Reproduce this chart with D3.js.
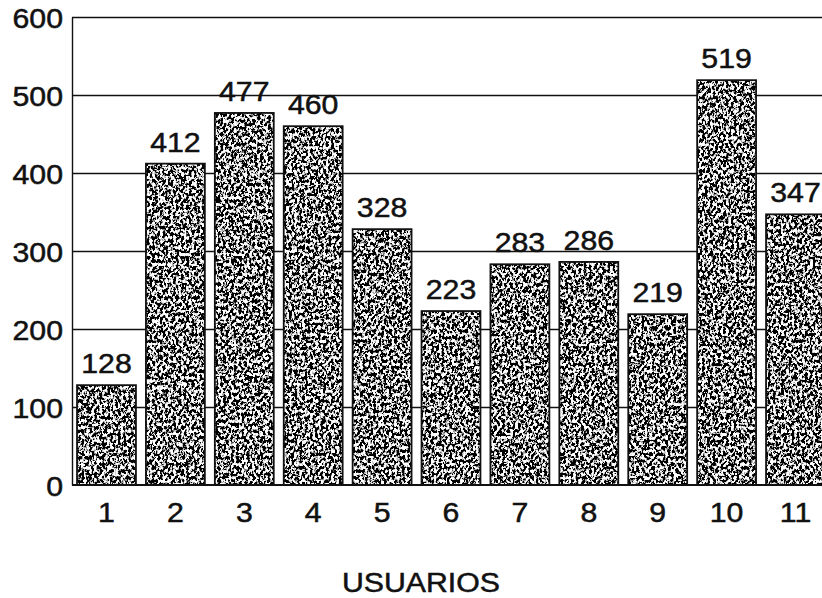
<!DOCTYPE html>
<html>
<head>
<meta charset="utf-8">
<script src="https://cdn.jsdelivr.net/npm/d3@7"></script>
<style>
  html, body { margin: 0; padding: 0; background: #fff; }
  svg { display: block; }
  text { font-family: "Liberation Sans", Arial, Helvetica, sans-serif; fill: #111; stroke: #111; stroke-width: 0.5px; }
</style>
</head>
<body>
<svg id="chart" width="822" height="598"></svg>
<script>
// Users per category
const usuarios = ["1", "2", "3", "4", "5", "6", "7", "8", "9", "10", "11"];
const valores = [128, 412, 477, 460, 328, 223, 283, 286, 219, 519, 347];
const yTicks = [0, 100, 200, 300, 400, 500, 600];
const xTitle = "USUARIOS";

const W = 822, H = 598;
const margin = { left: 72, top: 17, bottom: 113 };
const plotBottom = H - margin.bottom; // 485

const svg = d3.select("#chart");

// Speckled black-and-white texture for the bars
const defs = svg.append("defs");
const f = defs.append("filter").attr("id", "speckle")
  .attr("x", 0).attr("y", 0).attr("width", 1).attr("height", 1)
  .attr("filterUnits", "objectBoundingBox");
f.append("feTurbulence").attr("type", "fractalNoise")
  .attr("baseFrequency", "0.38 0.3").attr("numOctaves", 3).attr("seed", 7).attr("result", "noise");
f.append("feColorMatrix").attr("in", "noise").attr("type", "matrix")
  .attr("values", "0.33 0.33 0.33 0 0  0.33 0.33 0.33 0 0  0.33 0.33 0.33 0 0  0 0 0 0 1")
  .attr("result", "grey");
const ct = f.append("feComponentTransfer").attr("in", "grey").attr("result", "bw");
["feFuncR", "feFuncG", "feFuncB"].forEach(fn =>
  ct.append(fn).attr("type", "linear").attr("slope", 16).attr("intercept", -7.65));
f.append("feComposite").attr("in", "bw").attr("in2", "SourceGraphic").attr("operator", "in");

const x = d3.scaleBand()
  .domain(usuarios)
  .range([margin.left, 830])
  .paddingInner(0.145)
  .paddingOuter(0.073);

const y = d3.scaleLinear()
  .domain([0, 600])
  .range([plotBottom, margin.top]);

// Horizontal gridlines
svg.append("g")
  .selectAll("line")
  .data(yTicks.filter(t => t > 0))
  .join("line")
  .attr("x1", margin.left).attr("x2", W)
  .attr("y1", d => Math.round(y(d)) + 0.5).attr("y2", d => Math.round(y(d)) + 0.5)
  .attr("stroke", "#111").attr("stroke-width", 1.3);

// Y axis with tick labels
const yAxis = d3.axisLeft(y).tickValues(yTicks).tickSize(0).tickPadding(9);
const gy = svg.append("g").attr("transform", `translate(${margin.left},0)`).call(yAxis);
gy.select(".domain").attr("stroke", "#111").attr("stroke-width", 1.4);
gy.selectAll("text").attr("font-size", 27).attr("dy", "0.38em").attr("fill", "#111");

// Bars
const bars = svg.append("g");
bars.selectAll("rect.fill")
  .data(valores)
  .join("rect")
  .attr("class", "fill")
  .attr("x", (d, i) => x(usuarios[i]))
  .attr("y", d => y(d))
  .attr("width", x.bandwidth())
  .attr("height", d => y(0) - y(d))
  .attr("fill", "#000")
  .attr("filter", "url(#speckle)");
bars.selectAll("rect.edge")
  .data(valores)
  .join("rect")
  .attr("class", "edge")
  .attr("x", (d, i) => x(usuarios[i]))
  .attr("y", d => y(d))
  .attr("width", x.bandwidth())
  .attr("height", d => y(0) - y(d))
  .attr("fill", "none")
  .attr("stroke", "#111").attr("stroke-width", 1.8);

// Baseline
svg.append("line")
  .attr("x1", margin.left).attr("x2", W)
  .attr("y1", y(0)).attr("y2", y(0))
  .attr("stroke", "#111").attr("stroke-width", 2);

// X axis labels
const xAxis = d3.axisBottom(x).tickSize(0).tickPadding(18);
const gx = svg.append("g").attr("transform", `translate(0,${plotBottom})`).call(xAxis);
gx.select(".domain").remove();
gx.selectAll("text").attr("font-size", 27).attr("fill", "#111");

// Value labels above bars
svg.append("g")
  .selectAll("text")
  .data(valores)
  .join("text")
  .attr("class", "val")
  .attr("x", (d, i) => x(usuarios[i]) + x.bandwidth() / 2)
  .attr("y", d => y(d) - 12)
  .attr("text-anchor", "middle")
  .attr("font-size", 27)
  .text(d => d);

// Axis title
svg.append("text")
  .attr("x", 421).attr("y", 592)
  .attr("text-anchor", "middle")
  .attr("font-size", 27)
  .text(xTitle);

// Widen glyphs slightly to the broad sans face of the labels
svg.selectAll("text").each(function () {
  const len = this.getComputedTextLength();
  if (len > 0) {
    d3.select(this).attr("textLength", len * 1.12).attr("lengthAdjust", "spacingAndGlyphs");
  }
});
</script>
</body>
</html>
